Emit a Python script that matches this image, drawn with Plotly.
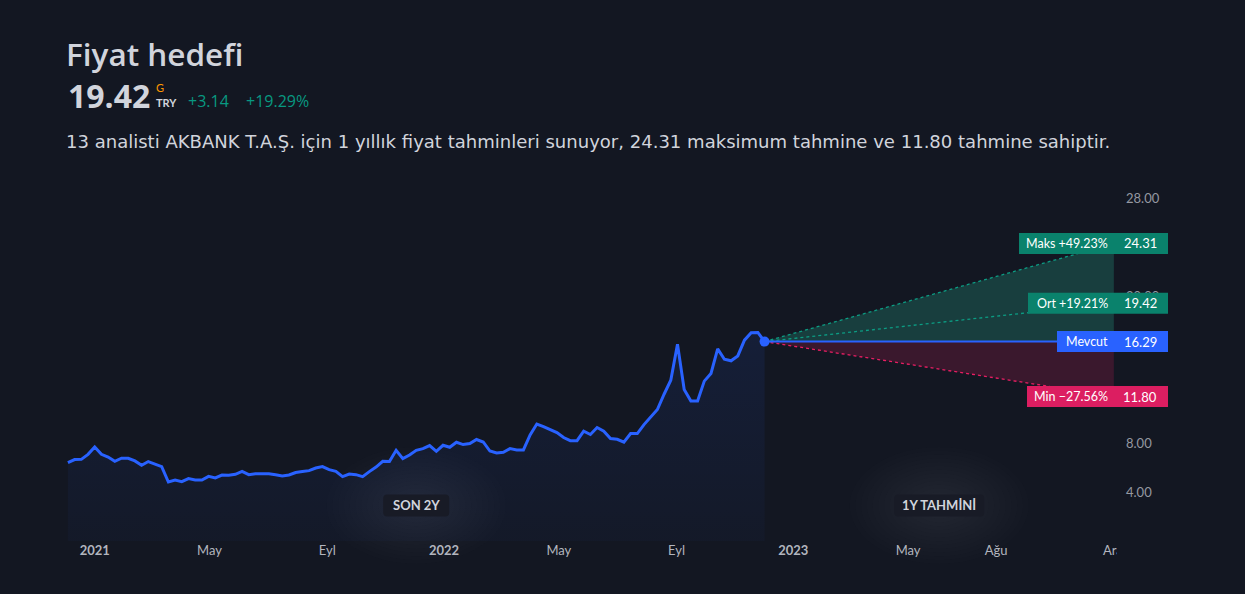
import pandas as pd
import plotly.graph_objects as go

# ---------------- data ----------------
hist_values = [6.40, 6.65, 6.67, 7.08, 7.68, 7.08, 6.86, 6.51, 6.76, 6.76,
               6.54, 6.18, 6.49, 6.27, 6.08, 4.82, 4.98, 4.85, 5.10, 4.98,
               4.98, 5.28, 5.15, 5.39, 5.37, 5.45, 5.69, 5.42, 5.50, 5.50,
               5.50, 5.42, 5.31, 5.39, 5.59, 5.67, 5.75, 5.96, 6.08, 5.83,
               5.69, 5.26, 5.47, 5.42, 5.26, 5.67, 6.04, 6.51, 6.49, 7.41,
               6.73, 7.03, 7.41, 7.55, 7.80, 7.33, 7.82, 7.66, 8.07, 7.88,
               7.96, 8.29, 8.09, 7.35, 7.19, 7.25, 7.55, 7.44, 7.44, 8.66,
               9.56, 9.35, 9.12, 8.86, 8.45, 8.20, 8.20, 8.97, 8.70, 9.27,
               8.97, 8.37, 8.31, 8.07, 8.78, 8.78, 9.51, 10.13, 10.74, 11.99,
               13.14, 16.08, 12.38, 11.44, 11.44, 13.06, 13.69, 15.70, 14.85, 14.72,
               15.12, 16.41, 17.01, 17.04, 16.29]
last_date = "2022-12-02"
forecast_end = "2023-12-02"

current_price = 16.29
target_max = 24.31
target_avg = 19.42
target_min = 11.80
label_names = ["Maks +49.23%", "Ort +19.21%", "Mevcut", "Min \u221227.56%"]
label_values = ["24.31", "19.42", "16.29", "11.80"]

# 12, 16 and 24 are fully hidden behind the target labels in the reference
y_ticks = [4, 8, 20, 28]
x_tick_dates = ["2021-01-01", "2021-05-01", "2021-09-01", "2022-01-01", "2022-05-01",
                "2022-09-01", "2023-01-01", "2023-05-01", "2023-08-01", "2023-12-01"]
x_tick_labels = ["2021", "May", "Eyl", "2022", "May", "Eyl", "2023", "May", "Ağu", "Ara"]
x_tick_is_year = [True, False, False, True, False, False, True, False, False, False]

title = "Fiyat hedefi"
big_price = "19.42"
change_abs = "+3.14"
change_pct = "+19.29%"
subtitle = ("13 analisti AKBANK T.A.Ş. için 1 yıllık fiyat tahminleri sunuyor, "
            "24.31 maksimum tahmine ve 11.80 tahmine sahiptir.")
badges = ["SON 2Y", "1Y TAHMİNİ"]

# ---------------- style ----------------
BG = "#131722"
TXT = "#d1d4dc"
GREY = "#9598a1"
BLUE = "#2962ff"
GREEN = "#089981"
GREEN_BOX = "#0a826c"
RED_BOX = "#dc1e61"
PINK = "#e91e63"
FONT = "Lato"
HFONT = "Open Sans"

hist_dates = pd.date_range(end=last_date, periods=len(hist_values), freq="7D")
cur_date = hist_dates[-1]
end_date = pd.Timestamp(forecast_end)

fig = go.Figure()

# historical area + line
fig.add_trace(go.Scatter(
    x=hist_dates, y=hist_values, mode="lines",
    line=dict(color=BLUE, width=3),
    fill="tozeroy",
    fillgradient=dict(type="vertical",
                      colorscale=[[0, "rgba(41,98,255,0.03)"], [1, "rgba(41,98,255,0.10)"]]),
    hoverinfo="skip", showlegend=False))

# forecast fills
fig.add_trace(go.Scatter(
    x=[cur_date, end_date, end_date, cur_date], y=[current_price, target_max, current_price, current_price],
    fill="toself", fillcolor="#183e3e", line=dict(width=0), mode="lines",
    hoverinfo="skip", showlegend=False))
fig.add_trace(go.Scatter(
    x=[cur_date, end_date, end_date, cur_date], y=[current_price, current_price, target_min, current_price],
    fill="toself", fillcolor="#3a182d", line=dict(width=0), mode="lines",
    hoverinfo="skip", showlegend=False))

# dotted target lines
for tgt, col in [(target_max, "#0c9c83"), (target_avg, "#0c9c83"), (target_min, PINK)]:
    fig.add_trace(go.Scatter(
        x=[cur_date, end_date], y=[current_price, tgt], mode="lines",
        line=dict(color=col, width=1.3, dash="dot"),
        hoverinfo="skip", showlegend=False))

# current price line + marker
fig.add_trace(go.Scatter(
    x=[cur_date, end_date], y=[current_price, current_price], mode="lines",
    line=dict(color=BLUE, width=2), hoverinfo="skip", showlegend=False))
fig.add_trace(go.Scatter(
    x=[cur_date], y=[current_price], mode="markers",
    marker=dict(color=BLUE, size=10), hoverinfo="skip", showlegend=False))

shapes = []
annotations = []

# right-side labels
label_targets = [target_max, target_avg, current_price, target_min]
label_colors = [GREEN_BOX, GREEN_BOX, BLUE, RED_BOX]
label_left = [-98, -89, -60, -90]
for name, val, tgt, col, lx in zip(label_names, label_values, label_targets, label_colors, label_left):
    shapes.append(dict(type="rect", xref="paper", yref="y", xsizemode="pixel", ysizemode="pixel",
                       xanchor=1, yanchor=tgt, x0=lx, x1=51, y0=-10.5, y1=10.5,
                       fillcolor=col, line=dict(width=0), layer="above"))
    annotations.append(dict(xref="paper", yref="y", x=1, y=tgt, xshift=-7, xanchor="right",
                            yanchor="middle", text=name, showarrow=False,
                            font=dict(family=FONT, size=12.5, color="#ffffff")))
    annotations.append(dict(xref="paper", yref="y", x=1, y=tgt, xshift=42, xanchor="right",
                            yanchor="middle", text=val, showarrow=False,
                            font=dict(family=FONT, size=13, color="#ffffff")))

# badges with glow
hist_mid = hist_dates[0] + (cur_date - hist_dates[0]) / 2
fc_mid = cur_date + (end_date - cur_date) / 2
badge_w = [66, 90]


def rrect(w, h, r):
    a, b = w / 2, h / 2
    return (f"M {-a + r},{-b} L {a - r},{-b} Q {a},{-b} {a},{-b + r} L {a},{b - r} "
            f"Q {a},{b} {a - r},{b} L {-a + r},{b} Q {-a},{b} {-a},{b - r} "
            f"L {-a},{-b + r} Q {-a},{-b} {-a + r},{-b} Z")


glow_radii = list(range(78, 8, -5))
for txt, xm, w in zip(badges, [hist_mid, fc_mid], badge_w):
    for r in glow_radii:
        shapes.append(dict(type="circle", xref="x", yref="paper", xsizemode="pixel", ysizemode="pixel",
                           xanchor=xm, yanchor=0.096, x0=-r * 1.15, x1=r * 1.15, y0=-r * 0.75, y1=r * 0.75,
                           fillcolor="rgba(150,155,170,0.011)", line=dict(width=0), layer="below"))
    shapes.append(dict(type="path", xref="x", yref="paper", xsizemode="pixel", ysizemode="pixel",
                       xanchor=xm, yanchor=0.096, path=rrect(w, 22, 4),
                       fillcolor="#181b26", line=dict(width=0), layer="above"))
    annotations.append(dict(xref="x", yref="paper", x=xm, y=0.096, text=f"<b>{txt}</b>",
                            showarrow=False, xanchor="center", yanchor="middle",
                            font=dict(family=FONT, size=13, color=TXT)))

# mask for clipped last x label
shapes.append(dict(type="rect", xref="paper", yref="paper", xsizemode="pixel", ysizemode="pixel",
                   xanchor=1, yanchor=0, x0=0, x1=40, y0=-2, y1=-40,
                   fillcolor=BG, line=dict(width=0), layer="above"))

# header texts
annotations += [
    dict(xref="paper", yref="paper", x=0, y=1, xshift=-2, yshift=117, xanchor="left", yanchor="middle",
         text=title, showarrow=False, font=dict(family=HFONT, size=31.5, color=TXT, weight=600)),
    dict(xref="paper", yref="paper", x=0, y=1, xshift=0, yshift=75, xanchor="left", yanchor="middle",
         text=f"<b>{big_price}</b>", showarrow=False, font=dict(family=HFONT, size=32, color=TXT)),
    dict(xref="paper", yref="paper", x=0, y=1, xshift=88, yshift=83, xanchor="left", yanchor="middle",
         text="G", showarrow=False, font=dict(family=FONT, size=11, color="#ff9800")),
    dict(xref="paper", yref="paper", x=0, y=1, xshift=88, yshift=68, xanchor="left", yanchor="middle",
         text="<b>TRY</b>", showarrow=False, font=dict(family=FONT, size=11, color=TXT)),
    dict(xref="paper", yref="paper", x=0, y=1, xshift=120, yshift=69, xanchor="left", yanchor="middle",
         text=change_abs, showarrow=False, font=dict(family=HFONT, size=16, color=GREEN)),
    dict(xref="paper", yref="paper", x=0, y=1, xshift=178, yshift=69, xanchor="left", yanchor="middle",
         text=change_pct, showarrow=False, font=dict(family=HFONT, size=16, color=GREEN)),
    dict(xref="paper", yref="paper", x=0, y=1, xshift=-2, yshift=29, xanchor="left", yanchor="middle",
         text=subtitle, showarrow=False, font=dict(family="DejaVu Sans", size=18.05, color=TXT)),
]

tick_text = [f"<b>{t}</b>" if y else t for t, y in zip(x_tick_labels, x_tick_is_year)]

fig.update_layout(
    width=1245, height=594,
    margin=dict(l=66, r=128, t=170, b=53),
    paper_bgcolor=BG, plot_bgcolor=BG,
    shapes=shapes, annotations=annotations,
    font=dict(family=FONT, color=GREY),
    xaxis=dict(type="date", range=["2020-12-02", "2023-12-05 07:00"],
               tickvals=x_tick_dates, ticktext=tick_text,
               showgrid=False, zeroline=False, showline=False, ticks="",
               tickfont=dict(family=FONT, size=13, color="#b2b5be")),
    yaxis=dict(range=[0, 30.31], side="right", tickvals=y_ticks,
               ticktext=[f"{v:.2f}" for v in y_ticks], showgrid=False, zeroline=False,
               showline=False, ticks="", ticklabelstandoff=8,
               tickfont=dict(family=FONT, size=13, color=GREY)),
    showlegend=False,
)

fig.write_html("out.html", config={"displayModeBar": False},
               post_script="document.body.style.margin='0';")
